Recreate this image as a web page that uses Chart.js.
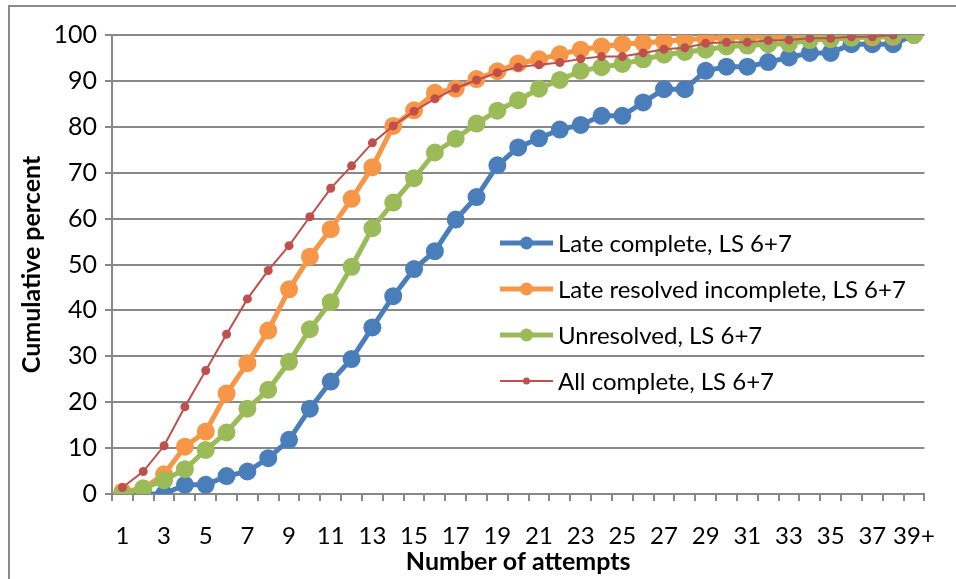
<!DOCTYPE html>
<html>
<head>
<meta charset="utf-8">
<script src="https://cdn.jsdelivr.net/npm/chart.js@4"></script>
<style>
  html, body { margin: 0; padding: 0; background: #fff; }
  #wrap { width: 956px; height: 579px; position: relative; }
</style>
</head>
<body>
<div id="wrap"><canvas id="cumChart" width="956" height="579"></canvas></div>
<script>
const attempts = ['1','2','3','4','5','6','7','8','9','10','11','12','13','14','15','16','17','18','19','20',
  '21','22','23','24','25','26','27','28','29','30','31','32','33','34','35','36','37','38','39+'];

const lateComplete = [0, 0, 0, 2, 2, 3.9, 4.9, 7.8, 11.8, 18.6, 24.5, 29.4, 36.3, 43.1, 49, 52.9, 59.8, 64.7, 71.6, 75.5,
  77.5, 79.4, 80.4, 82.4, 82.4, 85.3, 88.2, 88.2, 92.2, 93.1, 93.1, 94.1, 95.1, 96.1, 96.1, 98, 98, 98, 100];
const lateResolvedIncomplete = [0.5, 1.2, 4.3, 10.3, 13.6, 21.9, 28.5, 35.6, 44.6, 51.7, 57.7, 64.3, 71.2, 80.2, 83.6, 87.4, 88.3, 90.4, 92.1, 93.8,
  94.7, 95.8, 96.8, 97.5, 98, 98.3, 98.6, 99, 99.2, 99.5, 99.5, 99.5, 99.5, 99.5, 99.5, 99.5, 99.5, 99.6, 100];
const unresolved = [0, 1.2, 3, 5.4, 9.6, 13.4, 18.6, 22.7, 28.8, 35.9, 41.8, 49.5, 57.9, 63.5, 68.8, 74.4, 77.4, 80.7, 83.5, 85.8,
  88.3, 90.2, 92.2, 93, 93.7, 94.7, 95.7, 96.3, 96.8, 97.5, 97.7, 98, 98.1, 98.9, 99.1, 99.4, 99.8, 99.8, 100];
const allComplete = [1.4, 4.9, 10.5, 19, 26.9, 34.8, 42.5, 48.7, 54.1, 60.4, 66.6, 71.5, 76.5, 80.2, 83.4, 86.1, 88.4, 90.2, 91.8, 93,
  93.5, 94, 94.8, 95.3, 95.3, 96.1, 96.9, 97.2, 98.2, 98.4, 98.4, 98.8, 98.9, 99.3, 99.3, 99.6, 99.6, 100, null];

const seriesNames = ['Late complete, LS 6+7', 'Late resolved incomplete, LS 6+7', 'Unresolved, LS 6+7', 'All complete, LS 6+7'];

const FONT = 'Lato, "Open Sans", sans-serif';
const GRID = '#888888';

// frame around the whole chart plus the in-plot legend, like the Excel original
const framePlugin = {
  id: 'frame',
  beforeDraw(chart) {
    const c = chart.ctx;
    c.save();
    c.fillStyle = '#fff';
    c.fillRect(0, 0, chart.width, chart.height);
    c.strokeStyle = '#8a8a8a';
    c.lineWidth = 2;
    c.strokeRect(9, 6, chart.width + 10, chart.height + 10);
    c.restore();
  },
  afterDraw(chart) {
    const c = chart.ctx;
    c.save();
    c.font = '24px ' + FONT;
    c.textBaseline = 'middle';
    let y = 243;
    chart.data.datasets.forEach(ds => {
      c.strokeStyle = ds.borderColor;
      c.lineWidth = ds.borderWidth;
      c.beginPath();
      c.moveTo(500, y);
      c.lineTo(553, y);
      c.stroke();
      c.fillStyle = ds.borderColor;
      c.beginPath();
      c.arc(526.5, y, ds.pointRadius, 0, Math.PI * 2);
      c.fill();
      c.fillStyle = '#000';
      c.fillText(ds.label, 558, y + 1);
      y += 46;
    });
    c.restore();
  }
};

new Chart(document.getElementById('cumChart'), {
  type: 'line',
  data: {
    labels: attempts,
    datasets: [
      { label: seriesNames[0], data: lateComplete, borderColor: '#4a7ebb', backgroundColor: '#4a7ebb',
        borderWidth: 5, pointRadius: 6.5, order: 4 },
      { label: seriesNames[1], data: lateResolvedIncomplete, borderColor: '#f79646', backgroundColor: '#f79646',
        borderWidth: 5, pointRadius: 6.5, order: 3 },
      { label: seriesNames[2], data: unresolved, borderColor: '#9bbb59', backgroundColor: '#9bbb59',
        borderWidth: 5, pointRadius: 6.5, order: 2 },
      { label: seriesNames[3], data: allComplete, borderColor: '#c0504d', backgroundColor: '#c0504d',
        borderWidth: 2, pointRadius: 3.5, order: 1 }
    ]
  },
  options: {
    responsive: false,
    animation: false,
    layout: { padding: { left: 8, top: 35, right: 12, bottom: 0 } },
    elements: {
      line: { tension: 0 },
      point: { borderWidth: 0, hoverRadius: 6 }
    },
    plugins: {
      legend: { display: false },
      tooltip: { enabled: false }
    },
    scales: {
      x: {
        offset: true,
        grid: { display: true, drawOnChartArea: false, drawTicks: true, tickLength: 7, offset: true,
          color: GRID, lineWidth: 2 },
        border: { color: GRID, width: 2 },
        ticks: {
          autoSkip: false, maxRotation: 0, padding: 21, color: '#000',
          font: { family: FONT, size: 24 },
          callback: (v, i) => (i % 2 === 0 ? attempts[i] : '')
        },
        title: { display: true, text: 'Number of attempts', color: '#000',
          font: { family: FONT, size: 25, weight: 'bold' }, padding: { top: 0, bottom: 2 } },
        afterFit: s => { s.height = 85; }
      },
      y: {
        min: 0, max: 100,
        grid: { color: GRID, lineWidth: 2, tickLength: 7 },
        border: { color: GRID, width: 2 },
        ticks: { stepSize: 10, padding: 8, color: '#000', font: { family: FONT, size: 25 } },
        title: { display: true, text: 'Cumulative percent', color: '#000',
          font: { family: FONT, size: 25, weight: 'bold' }, padding: { top: 9, bottom: 0 } },
        afterFit: s => { s.width = 104; }
      }
    }
  },
  plugins: [framePlugin]
});
</script>
</body>
</html>
